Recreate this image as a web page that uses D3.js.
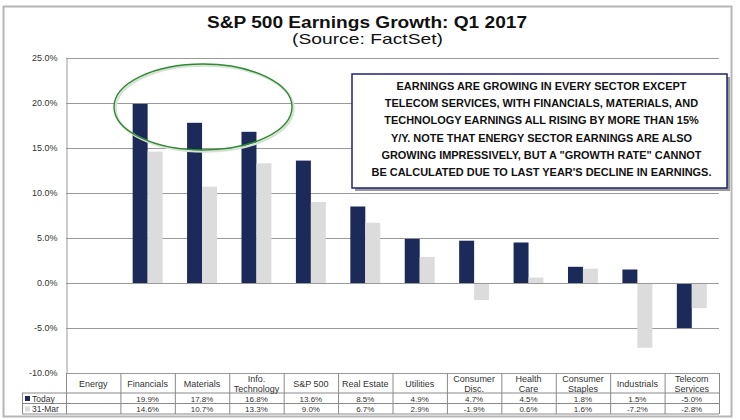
<!DOCTYPE html>
<html>
<head>
<meta charset="utf-8">
<script src="https://cdn.jsdelivr.net/npm/d3@7"></script>
<style>
  body { margin: 0; background: #fff; }
  svg { display: block; font-family: "Liberation Sans", Arial, sans-serif; }
</style>
</head>
<body>
<svg id="chart" width="740" height="420"></svg>
<script>
// Sector names (line breaks as in the table)
const sectors = ['Energy', 'Financials', 'Materials', 'Info.\nTechnology', 'S&P 500', 'Real Estate',
  'Utilities', 'Consumer\nDisc.', 'Health\nCare', 'Consumer\nStaples', 'Industrials', 'Telecom\nServices'];
// Growth rates in percent (Energy has no rate)
const today = [null, 19.9, 17.8, 16.8, 13.6, 8.5, 4.9, 4.7, 4.5, 1.8, 1.5, -5.0];
const march31 = [null, 14.6, 10.7, 13.3, 9.0, 6.7, 2.9, -1.9, 0.6, 1.6, -7.2, -2.8];
const seriesNames = ['Today', '31-Mar'];
const yTicks = [25, 20, 15, 10, 5, 0, -5, -10];
const noteLines = [
  'EARNINGS ARE GROWING IN EVERY SECTOR EXCEPT',
  'TELECOM SERVICES, WITH FINANCIALS, MATERIALS, AND',
  'TECHNOLOGY EARNINGS ALL RISING BY MORE THAN 15%',
  'Y/Y. NOTE THAT ENERGY SECTOR EARNINGS ARE ALSO',
  'GROWING IMPRESSIVELY, BUT A "GROWTH RATE" CANNOT',
  'BE CALCULATED DUE TO LAST YEAR\'S DECLINE IN EARNINGS.'
];

const colors = { 'Today': '#1b2a59', '31-Mar': '#dcdcdc' };
const textColor = '#333';

const svg = d3.select('#chart');

// Outer frame
svg.append('rect')
  .attr('x', 3.5).attr('y', 6.5).attr('width', 728).attr('height', 410)
  .attr('fill', '#fff').attr('stroke', '#b5b5b5').attr('stroke-width', 2);

// Titles (stretched horizontally like the source image)
svg.append('text')
  .attr('x', 207).attr('y', 28)
  .attr('textLength', 320).attr('lengthAdjust', 'spacingAndGlyphs')
  .style('font-size', '16px').style('font-weight', 'bold').attr('fill', '#111')
  .text('S&P 500 Earnings Growth: Q1 2017');
svg.append('text')
  .attr('x', 292).attr('y', 44)
  .attr('textLength', 151).attr('lengthAdjust', 'spacingAndGlyphs')
  .style('font-size', '15px').attr('fill', '#111')
  .text('(Source: FactSet)');

// Scales
const plotLeft = 66, plotRight = 719, plotTop = 58, plotBottom = 373;
const x0 = d3.scaleBand().domain(sectors).range([plotLeft, plotRight]);
const x1 = d3.scaleBand().domain(seriesNames)
  .range([x0.bandwidth() * 0.225, x0.bandwidth() * 0.775]);
const y = d3.scaleLinear().domain([-10, 25]).range([plotBottom, plotTop]);

// Gridlines
svg.append('g')
  .selectAll('line')
  .data(yTicks)
  .enter()
  .append('line')
  .attr('x1', plotLeft).attr('x2', plotRight)
  .attr('y1', d => Math.round(y(d)) + 0.5).attr('y2', d => Math.round(y(d)) + 0.5)
  .attr('stroke', '#9a9a9a').attr('stroke-width', 1);

// Y axis
const yAxis = svg.append('g')
  .attr('transform', `translate(${plotLeft + 0.5},0)`)
  .call(d3.axisLeft(y).tickValues(yTicks).tickFormat(d => d.toFixed(1) + '%').tickSize(0).tickPadding(9));
yAxis.select('.domain').attr('stroke', '#9a9a9a');
yAxis.selectAll('text').style('font-size', '9px').attr('fill', textColor).style('font-family', '"Liberation Sans", Arial, sans-serif');

// Bars
const rows = sectors.map((s, i) => ({ sector: s, values: [today[i], march31[i]] }));
const groups = svg.append('g')
  .selectAll('g')
  .data(rows)
  .enter()
  .append('g')
  .attr('transform', d => `translate(${x0(d.sector)},0)`);
groups.selectAll('rect')
  .data(d => d.values.map((v, j) => ({ key: seriesNames[j], value: v })).filter(e => e.value !== null))
  .enter()
  .append('rect')
  .attr('x', d => x1(d.key))
  .attr('y', d => y(Math.max(0, d.value)))
  .attr('width', x1.bandwidth())
  .attr('height', d => Math.abs(y(d.value) - y(0)))
  .attr('fill', d => colors[d.key]);

// Zero line on top of bars
svg.append('line')
  .attr('x1', plotLeft).attr('x2', plotRight)
  .attr('y1', Math.round(y(0)) + 0.5).attr('y2', Math.round(y(0)) + 0.5)
  .attr('stroke', '#9a9a9a');

// Data table
const tableTop = plotBottom, catH = 20, rowH = 10.5, legendLeft = 22;
const table = svg.append('g').attr('stroke', '#8a8a8a').attr('stroke-width', 1);
// horizontal lines
[tableTop + catH, tableTop + catH + rowH, tableTop + catH + 2 * rowH].forEach(yy => {
  table.append('line').attr('x1', legendLeft).attr('x2', plotRight).attr('y1', yy).attr('y2', yy);
});
// column separators
x0.domain().forEach(s => {
  table.append('line').attr('x1', x0(s) + 0.5).attr('x2', x0(s) + 0.5)
    .attr('y1', tableTop).attr('y2', tableTop + catH + 2 * rowH);
});
table.append('line').attr('x1', plotRight + 0.5).attr('x2', plotRight + 0.5)
  .attr('y1', tableTop).attr('y2', tableTop + catH + 2 * rowH);
table.append('line').attr('x1', legendLeft + 0.5).attr('x2', legendLeft + 0.5)
  .attr('y1', tableTop + catH).attr('y2', tableTop + catH + 2 * rowH);

// category labels
const catLabels = svg.append('g')
  .selectAll('text')
  .data(sectors)
  .enter()
  .append('text')
  .attr('text-anchor', 'middle')
  .attr('fill', textColor)
  .style('font-size', '9px');
catLabels.each(function(d) {
  const parts = d.split('\n');
  const t = d3.select(this);
  const cx = x0(d) + x0.bandwidth() / 2;
  parts.forEach((p, k) => {
    t.append('tspan')
      .attr('x', cx)
      .attr('y', parts.length === 1 ? tableTop + 13.5 : tableTop + 9 + k * 9.5)
      .text(p);
  });
});

// value rows
[today, march31].forEach((vals, r) => {
  const yy = tableTop + catH + rowH * r + 8.5;
  svg.append('g')
    .selectAll('text')
    .data(sectors.map((s, i) => ({ s, v: vals[i] })).filter(d => d.v !== null))
    .enter()
    .append('text')
    .attr('x', d => x0(d.s) + x0.bandwidth() / 2)
    .attr('y', yy)
    .attr('text-anchor', 'middle')
    .attr('fill', textColor)
    .style('font-size', '8px')
    .text(d => d.v.toFixed(1) + '%');
  // legend cell
  svg.append('rect')
    .attr('x', legendLeft + 3).attr('y', yy - 5.5).attr('width', 5).attr('height', 5)
    .attr('fill', colors[seriesNames[r]]);
  svg.append('text')
    .attr('x', legendLeft + 10).attr('y', yy)
    .attr('fill', textColor)
    .style('font-size', '8.5px')
    .text(seriesNames[r]);
});

// Highlight ellipse
svg.append('ellipse')
  .attr('cx', 203).attr('cy', 107).attr('rx', 89).attr('ry', 43)
  .attr('fill', 'none').attr('stroke', '#d6e2d6').attr('stroke-width', 2.5)
  .attr('transform', 'translate(1.5,1.5)');
svg.append('ellipse')
  .attr('cx', 203).attr('cy', 107).attr('rx', 89).attr('ry', 43)
  .attr('fill', 'none').attr('stroke', '#2d8a2d').attr('stroke-width', 1.4);

// Annotation box
const box = { x: 352, y: 74, w: 375, h: 114 };
svg.append('rect')
  .attr('x', box.x + 3).attr('y', box.y + 3).attr('width', box.w).attr('height', box.h)
  .attr('fill', '#9a9a9a');
svg.append('rect')
  .attr('x', box.x).attr('y', box.y).attr('width', box.w).attr('height', box.h)
  .attr('fill', '#fff').attr('stroke', '#1f2370').attr('stroke-width', 1.5);
const note = svg.append('g');
const noteTexts = note.selectAll('text')
  .data(noteLines)
  .enter()
  .append('text')
  .attr('x', box.x + box.w / 2 + 2)
  .attr('y', (d, i) => box.y + 16 + i * 17.2)
  .attr('text-anchor', 'middle')
  .attr('fill', '#111')
  .style('font-size', '12px')
  .style('font-weight', 'bold')
  .text(d => d);
// size the font so the last line matches the width seen in the source
const lastWidth = noteTexts.nodes()[noteLines.length - 1].getComputedTextLength();
noteTexts.style('font-size', (12 * 340 / lastWidth).toFixed(2) + 'px');
</script>
</body>
</html>
